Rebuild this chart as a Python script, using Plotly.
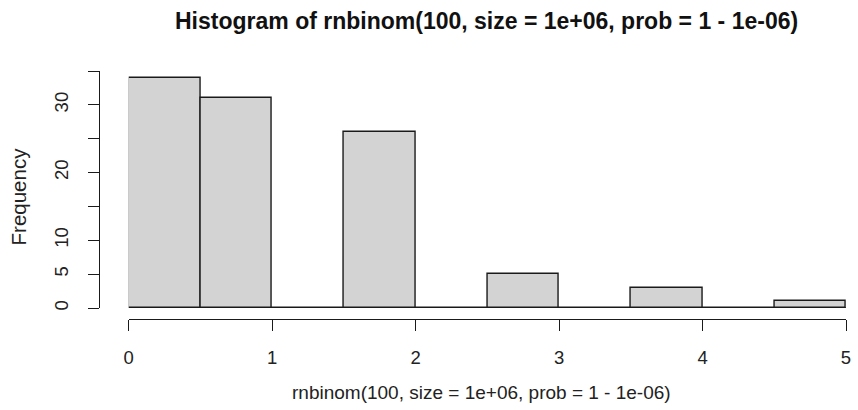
import plotly.graph_objects as go

# Histogram counts of rnbinom(100, size = 1e6, prob = 1 - 1e-6), bins of width 0.5
bin_edges = [0.0, 0.5, 1.0, 1.5, 2.0, 2.5, 3.0, 3.5, 4.0, 4.5, 5.0]
counts = [34, 31, 0, 26, 0, 5, 0, 3, 0, 1]

y_tickvals = [0, 5, 10, 15, 20, 25, 30, 35]
y_ticktext = ["0", "5", "10", "", "20", "", "30", ""]
x_tickvals = [0, 1, 2, 3, 4, 5]
x_ticktext = ["0", "1", "2", "3", "4", "5"]

title_text = "Histogram of rnbinom(100, size = 1e+06, prob = 1 - 1e-06)"
xlab = "rnbinom(100, size = 1e+06, prob = 1 - 1e-06)"
ylab = "Frequency"

centers = [(a + b) / 2 for a, b in zip(bin_edges[:-1], bin_edges[1:])]
widths = [b - a for a, b in zip(bin_edges[:-1], bin_edges[1:])]

FONT = "Liberation Sans, Arial, Helvetica, sans-serif"
INK = "#1a1a1a"

W, H = 858, 410
ML, MR, MT, MB = 90, 5, 60, 60
pw, ph = W - ML - MR, H - MT - MB

def px_x(p):
    return (p - ML) / pw

def px_y(p):
    return (H - MB - p) / ph

fig = go.Figure()

fig.add_trace(go.Bar(
    x=centers, y=counts, width=widths,
    marker=dict(color="#d3d3d3", line=dict(color=INK, width=1.4)),
    cliponaxis=False, showlegend=False, hoverinfo="x+y",
))

# baseline drawn by the empty bins along zero
fig.add_trace(go.Scatter(
    x=[bin_edges[0], bin_edges[-1]], y=[0, 0], mode="lines",
    line=dict(color=INK, width=1.4), cliponaxis=False,
    showlegend=False, hoverinfo="skip",
))

fig.update_layout(
    width=W, height=H,
    margin=dict(l=ML, r=MR, t=MT, b=MB),
    paper_bgcolor="white", plot_bgcolor="white",
    font=dict(family=FONT, color=INK, size=19),
    bargap=0,
    xaxis=dict(
        domain=[px_x(129), px_x(851)], range=[0, 5],
        anchor="free", position=px_y(319),
        showline=True, linecolor=INK, linewidth=1.4,
        ticks="outside", ticklen=11, tickwidth=1.4, tickcolor=INK,
        tickvals=x_tickvals, ticktext=x_ticktext,
        ticklabelstandoff=11,
        showgrid=False, zeroline=False,
        tickfont=dict(size=18.5, color="#222"),
    ),
    yaxis=dict(
        domain=[px_y(308), px_y(71)], range=[0, 35],
        anchor="free", position=px_x(99),
        showline=True, linecolor=INK, linewidth=1.4,
        ticks="outside", ticklen=11, tickwidth=1.4, tickcolor=INK,
        tickvals=y_tickvals, ticktext=y_ticktext,
        tickangle=-90, ticklabelstandoff=12,
        showgrid=False, zeroline=False,
        tickfont=dict(size=18.5, color="#222"),
    ),
    annotations=[
        dict(text="<b>" + title_text + "</b>", xref="paper", yref="paper",
             x=px_x(489), y=px_y(21), showarrow=False,
             xanchor="center", yanchor="middle",
             font=dict(size=23, color="#111")),
        dict(text=xlab, xref="paper", yref="paper",
             x=px_x(484), y=px_y(392), showarrow=False,
             xanchor="center", yanchor="middle",
             font=dict(size=19, color="#222")),
        dict(text=ylab, xref="paper", yref="paper",
             x=px_x(18), y=px_y(196), showarrow=False, textangle=-90,
             xanchor="center", yanchor="middle",
             font=dict(size=20.5, color="#222")),
    ],
)

fig.write_html("out.html")
